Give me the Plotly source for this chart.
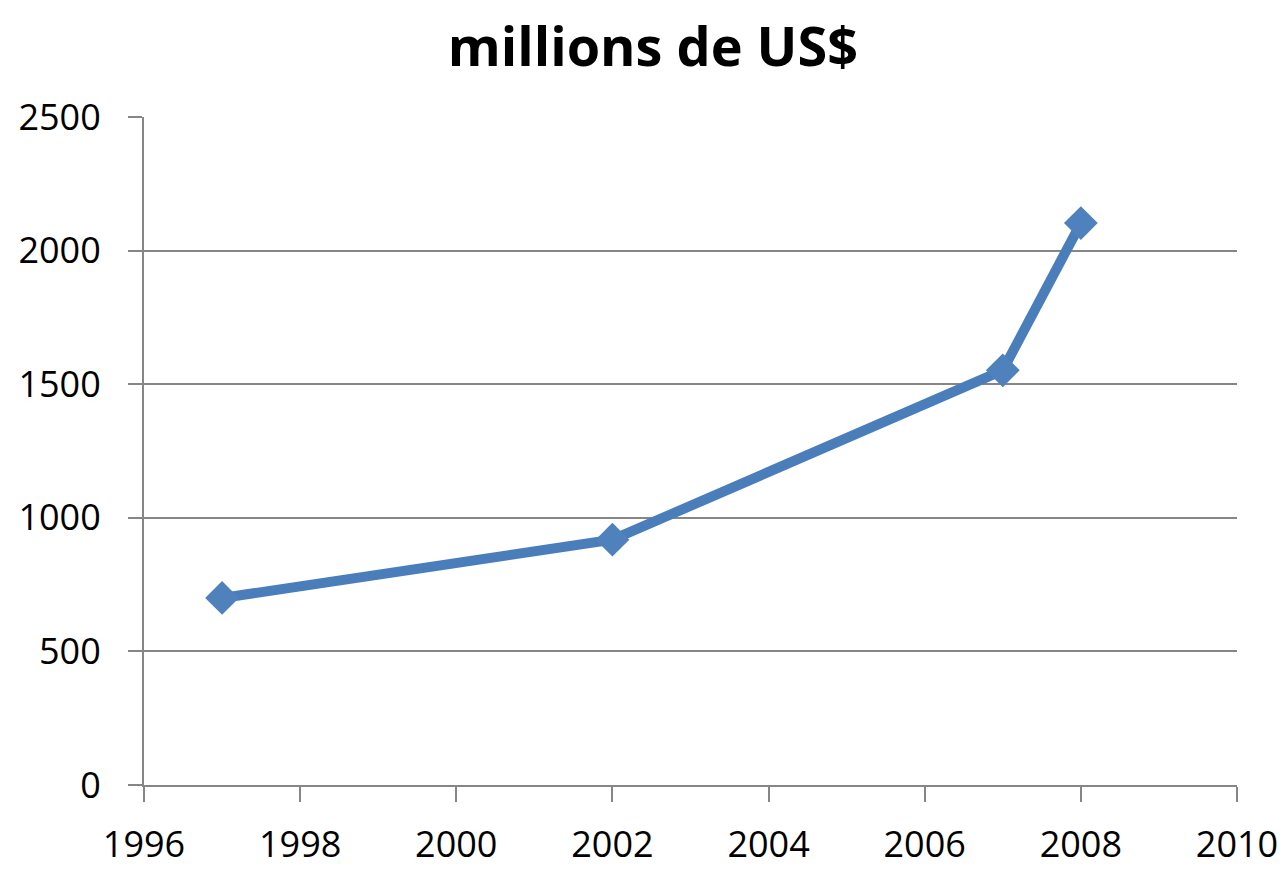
import plotly.graph_objects as go

annees = [1997, 2002, 2007, 2008]
valeurs = [700, 918, 1552, 2103]

titre = "millions de US$"

fig = go.Figure(
    go.Scatter(
        x=annees,
        y=valeurs,
        mode="lines+markers",
        line=dict(color="#4A7EBB", width=10),
        marker=dict(symbol="diamond", size=26, color="#4F81BD"),
        showlegend=False,
    )
)

gris = "#868686"

# la page garde une marge de 8 px autour du graphique
fig.update_layout(
    title=dict(
        text="<b>" + titre + "</b>",
        x=0.505,
        xanchor="center",
        y=0.955,
        yanchor="middle",
        font=dict(family="Open Sans", size=54, color="black"),
    ),
    width=1277,
    height=864,
    margin=dict(l=136, r=48, t=109, b=87),
    paper_bgcolor="white",
    plot_bgcolor="white",
    font=dict(family="Open Sans", size=36, color="black"),
)

fig.update_xaxes(
    range=[1996, 2010],
    dtick=2,
    tick0=1996,
    showgrid=False,
    zeroline=False,
    showline=True,
    linecolor=gris,
    linewidth=2,
    ticks="outside",
    ticklen=15,
    tickwidth=2,
    tickcolor=gris,
    ticklabelstandoff=12,
    automargin=False,
)

fig.update_yaxes(
    range=[0, 2500],
    dtick=500,
    showgrid=True,
    gridcolor=gris,
    gridwidth=2,
    zeroline=False,
    showline=True,
    linecolor=gris,
    linewidth=2,
    ticks="outside",
    ticklen=14,
    tickwidth=2,
    tickcolor=gris,
    ticklabelstandoff=20,
    automargin=False,
)

fig.write_html("out.html")
